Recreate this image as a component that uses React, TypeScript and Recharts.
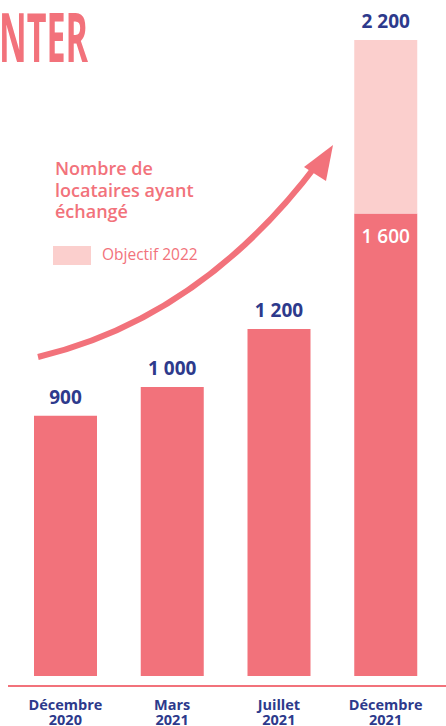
import React from 'react';
import { BarChart, Bar, XAxis, YAxis, LabelList } from 'recharts';

const periods = ['Décembre 2020', 'Mars 2021', 'Juillet 2021', 'Décembre 2021'];
const locataires = [900, 1000, 1200, 1600];
const objectif2022 = [null, null, null, 2200];

const PINK = '#f2727b';
const LIGHT_PINK = '#fbcfcd';
const NAVY = '#2d3a8c';
const FONT = '"Open Sans", sans-serif';

const data = periods.map((p, i) => {
  const goal = objectif2022[i];
  return {
    period: p,
    actual: locataires[i],
    extra: goal != null ? goal - locataires[i] : 0,
    goalLabel: goal != null ? goal : null,
    hasGoal: goal != null,
  };
});

const fmt = (v: number) => v.toLocaleString('fr-FR').replace(/\s/g, ' ');

const PeriodTick = (props: any) => {
  const { x, y, payload } = props;
  const [month, year] = String(payload.value).split(' ');
  return (
    <text x={x} y={y} textAnchor="middle" fill={NAVY} fontFamily={FONT} fontWeight={700} fontSize={14.5}>
      <tspan x={x} dy={16}>{month}</tspan>
      <tspan x={x} dy={14.5}>{year}</tspan>
    </text>
  );
};

const ActualLabel = (props: any) => {
  const { x, y, width, index } = props;
  const row = data[index];
  const cx = x + width / 2;
  if (row.hasGoal) {
    return (
      <text x={cx} y={y + 30} textAnchor="middle" fill="#fff" fontFamily={FONT} fontWeight={600} fontSize={19}>
        {fmt(row.actual)}
      </text>
    );
  }
  return (
    <text x={cx} y={y - 12} textAnchor="middle" fill={NAVY} fontFamily={FONT} fontWeight={700} fontSize={19}>
      {fmt(row.actual)}
    </text>
  );
};

export default function App() {
  return (
    <div style={{ position: 'absolute', left: 0, top: 0, width: 446, height: 726, background: '#fff', overflow: 'hidden' }}>
      <BarChart
        width={446}
        height={726}
        data={data}
        margin={{ top: 40, right: 0, bottom: 10, left: 8 }}
        barSize={63}
      >
        <YAxis hide domain={[-34.6, 2200]} />
        <XAxis
          dataKey="period"
          height={30}
          axisLine={{ stroke: PINK, strokeWidth: 2 }}
          tickLine={false}
          tick={<PeriodTick />}
          interval={0}
          padding={{ left: 4, right: 7 }}
        />
        <Bar dataKey="actual" stackId="a" fill={PINK} isAnimationActive={false}>
          <LabelList dataKey="actual" content={<ActualLabel />} />
        </Bar>
        <Bar dataKey="extra" stackId="a" fill={LIGHT_PINK} isAnimationActive={false}>
          <LabelList
            dataKey="goalLabel"
            position="top"
            offset={12}
            formatter={(v: any) => (v == null ? '' : fmt(Number(v)))}
            fill={NAVY}
            fontFamily={FONT}
            fontWeight={700}
            fontSize={19}
          />
        </Bar>
      </BarChart>

      {/* décor : titre coupé, flèche, légende */}
      <svg width={446} height={726} style={{ position: 'absolute', left: 0, top: 0, pointerEvents: 'none' }}>
        <text
          x={-1}
          y={62}
          fill={PINK}
          fontFamily={FONT}
          fontWeight={700}
          fontSize={68}
          textLength={89}
          lengthAdjust="spacingAndGlyphs"
        >
          NTER
        </text>
        <path d="M38,357 C130,335 230,280 318,163" fill="none" stroke={PINK} strokeWidth={6} />
        <polygon points="333,145 304,167 326,181" fill={PINK} />
        <text fill={PINK} fontFamily={FONT} fontWeight={600} fontSize={18}>
          <tspan x={55} y={175}>Nombre de</tspan>
          <tspan x={55} y={197}>locataires ayant</tspan>
          <tspan x={55} y={218}>échangé</tspan>
        </text>
        <rect x={53} y={246} width={38} height={19} fill={LIGHT_PINK} />
        <text x={102} y={260} fill={PINK} fontFamily={FONT} fontSize={15.5}>
          Objectif 2022
        </text>
      </svg>
    </div>
  );
}
